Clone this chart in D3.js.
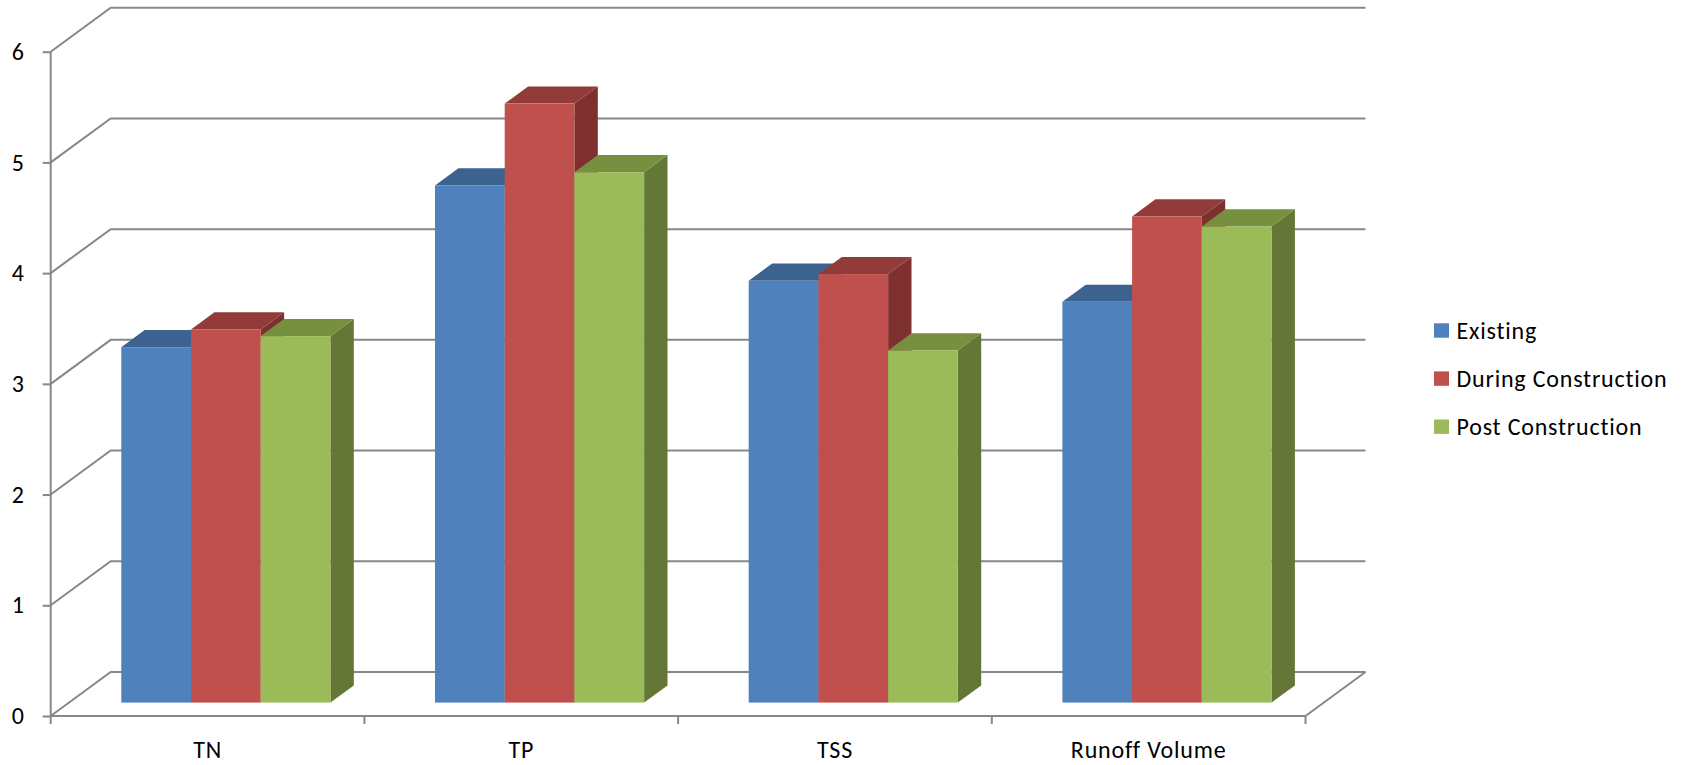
<!DOCTYPE html>
<html>
<head>
<meta charset="utf-8">
<script src="https://cdn.jsdelivr.net/npm/d3@7"></script>
<style>
  html, body { margin: 0; padding: 0; background: #fff; }
  svg { display: block; }
  text { font-family: Carlito, Calibri, Lato, "Open Sans", sans-serif; fill: #000; letter-spacing: 0.8px; }
</style>
</head>
<body>
<svg id="chart" width="1690" height="765"></svg>
<script>
// Pollutant loads by stage
const categories = ["TN", "TP", "TSS", "Runoff Volume"];
const seriesNames = ["Existing", "During Construction", "Post Construction"];
const existing = [3.21, 4.67, 3.81, 3.62];
const during = [3.37, 5.41, 3.87, 4.39];
const post = [3.31, 4.79, 3.18, 4.30];
const yTicks = [0, 1, 2, 3, 4, 5, 6];

const seriesValues = [existing, during, post];
// front, top and side shades for each series
const frontColors = ["#4F81BD", "#C0504D", "#9BBB59"];
const topColors = ["#3C6390", "#933B39", "#77903F"];
const sideColors = ["#355680", "#7E302F", "#657737"];

const svg = d3.select("#chart");
const fontSize = 24;

// plot box: front plane and oblique depth offset
const frontLeft = 50.7, frontRight = 1305.5;
const y0 = 716, yTop = 51.7;
const DX = 60, DY = -44;
const barFront = 0.305, barDepth = 0.39;

const x = d3.scaleBand().domain(categories).range([frontLeft, frontRight]).paddingInner(0).paddingOuter(0);
const xs = d3.scaleBand().domain(seriesNames).range([0, x.bandwidth()]).paddingInner(0).paddingOuter(0.75);
const y = d3.scaleLinear().domain([0, 6]).range([y0, yTop]);

const proj = (px, py, d) => [px + d * DX, py + d * DY];
const lineColor = "#878787";

// back wall gridlines with left-wall diagonals
const grid = svg.append("g").attr("fill", "none").attr("stroke", lineColor).attr("stroke-width", 2);
yTicks.forEach(v => {
  const a = proj(frontLeft, y(v), 0);
  const b = proj(frontLeft, y(v), 1);
  const c = proj(frontRight, y(v), 1);
  grid.append("path").attr("d", d3.line()([a, b, c]));
});
// floor right edge
{
  const a = proj(frontRight, y(0), 1);
  const b = proj(frontRight, y(0), 0);
  grid.append("path").attr("d", d3.line()([a, b]));
}

// y axis on front plane
const yAxis = d3.axisLeft(y).tickValues(yTicks).tickSize(8).tickSizeOuter(0).tickPadding(18).tickFormat(d3.format("d"));
const gy = svg.append("g").attr("transform", `translate(${frontLeft},0)`).call(yAxis);
gy.select(".domain").attr("stroke", lineColor).attr("stroke-width", 2).attr("d", `M0,${yTop}V${y0 + 8}`);
gy.selectAll(".tick line").attr("stroke", lineColor).attr("stroke-width", 2);
gy.selectAll(".tick text").attr("font-size", fontSize).attr("font-family", "Carlito, Calibri, Lato, sans-serif").attr("fill", "#000");

// x axis front floor edge with category boundary ticks
const gx = svg.append("g");
gx.append("path").attr("fill", "none").attr("stroke", lineColor).attr("stroke-width", 2)
  .attr("d", `M${frontLeft},${y0}H${frontRight}`);
const bounds = categories.map(c => x(c)).concat([frontRight]);
gx.selectAll("line.tk").data(bounds.slice(1)).join("line").attr("class", "tk")
  .attr("x1", d => d).attr("x2", d => d).attr("y1", y0).attr("y2", y0 + 8)
  .attr("stroke", lineColor).attr("stroke-width", 2);
gx.selectAll("text").data(categories).join("text")
  .attr("x", d => x(d) + x.bandwidth() / 2).attr("y", 758)
  .attr("text-anchor", "middle").attr("font-size", fontSize).text(d => d);

// 3D columns, drawn left to right so each front face hides the previous side
const bars = svg.append("g");
categories.forEach((c, ci) => {
  seriesNames.forEach((s, si) => {
    const v = seriesValues[si][ci];
    const xl = x(c) + xs(s), xr = xl + xs.bandwidth();
    const yt = y(v), yb = y(0);
    const d1 = barFront, d2 = barFront + barDepth;
    const g = bars.append("g");
    // side face
    g.append("path").attr("fill", sideColors[si])
      .attr("d", d3.line()([proj(xr, yb, d1), proj(xr, yb, d2), proj(xr, yt, d2), proj(xr, yt, d1)]) + "Z");
    // top face
    g.append("path").attr("fill", topColors[si])
      .attr("d", d3.line()([proj(xl, yt, d1), proj(xl, yt, d2), proj(xr, yt, d2), proj(xr, yt, d1)]) + "Z");
    // front face
    const p = proj(xl, yt, d1), q = proj(xr, yb, d1);
    g.append("rect").attr("fill", frontColors[si])
      .attr("x", p[0]).attr("y", p[1]).attr("width", q[0] - p[0]).attr("height", q[1] - p[1]);
  });
});

// legend
const legend = svg.append("g").attr("transform", "translate(1434,330.5)");
const rows = legend.selectAll("g").data(seriesNames).join("g")
  .attr("transform", (d, i) => `translate(0,${i * 48.1})`);
rows.append("rect").attr("x", 0).attr("y", -7.2).attr("width", 15).attr("height", 14.4)
  .attr("fill", (d, i) => frontColors[i]);
rows.append("text").attr("x", 22.5).attr("y", 8).attr("font-size", fontSize).text(d => d);
</script>
</body>
</html>
